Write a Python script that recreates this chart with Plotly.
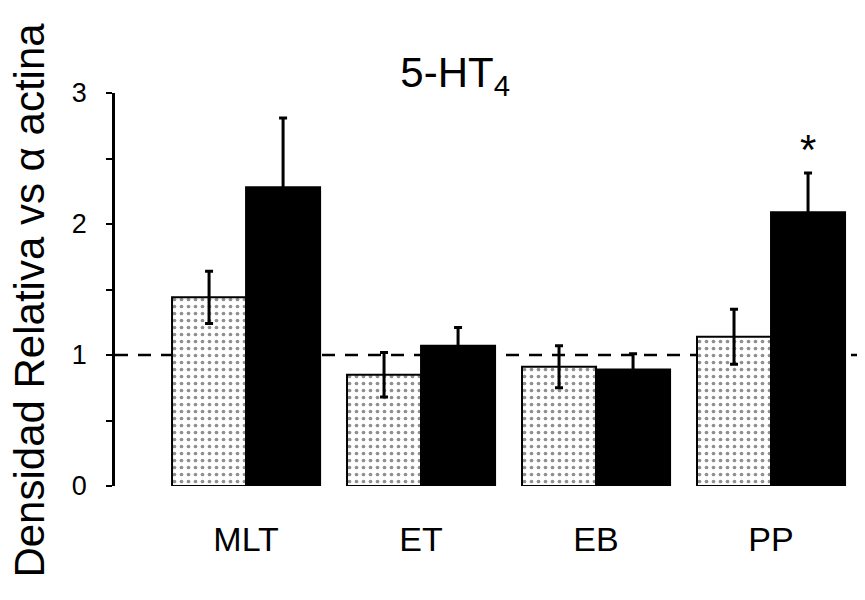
import plotly.graph_objects as go

categories = ["MLT", "ET", "EB", "PP"]
control_vals = [1.44, 0.85, 0.91, 1.14]
control_err = [0.20, 0.17, 0.16, 0.21]
treated_vals = [2.28, 1.07, 0.89, 2.09]
treated_err = [0.53, 0.14, 0.12, 0.30]
y_ticks = [0, 1, 2, 3]
reference_level = 1
significant = ["", "", "", "*"]

FONT = "Arial, Liberation Sans, sans-serif"
xs = list(range(len(categories)))

fig = go.Figure()
fig.add_trace(go.Bar(
    x=xs, y=control_vals,
    marker=dict(color="white", line=dict(color="black", width=2),
                pattern=dict(shape=".", fgcolor="#222222", bgcolor="white",
                             size=7, solidity=0.22)),
    error_y=dict(type="data", array=control_err, visible=True,
                 color="black", thickness=3, width=4),
    showlegend=False,
))
fig.add_trace(go.Bar(
    x=xs, y=treated_vals,
    marker=dict(color="black", line=dict(color="black", width=2)),
    error_y=dict(type="data", array=treated_err, visible=True,
                 color="black", thickness=3, width=4),
    showlegend=False,
))

fig.add_shape(type="line", xref="paper", x0=0, x1=1, yref="y",
              y0=reference_level, y1=reference_level,
              line=dict(color="black", width=2.5, dash="13px,10px"), layer="below")

half = (1 - 0.154) / 4
for i, s in enumerate(significant):
    if s:
        fig.add_annotation(x=xs[i] + half, y=treated_vals[i] + treated_err[i],
                           text=s, showarrow=False, yanchor="bottom", yshift=-2,
                           font=dict(family=FONT, size=42, color="black"))

fig.add_annotation(text="Densidad Relativa vs α actina", textangle=-90,
                   xref="paper", yref="paper", x=-0.114, y=0.473,
                   xanchor="center", yanchor="middle", showarrow=False,
                   font=dict(family=FONT, size=42, color="black"))

fig.update_layout(
    width=865, height=600,
    margin=dict(l=107, r=8, t=85, b=122),
    paper_bgcolor="white", plot_bgcolor="white",
    barmode="group", bargap=0.154, bargroupgap=0,
    title=dict(text="5-HT<sub>4</sub>", xref="container", x=0.517, xanchor="center",
               yref="container", y=0.893, yanchor="middle",
               font=dict(family=FONT, size=42, color="black")),
    font=dict(family=FONT, color="black"),
)
fig.update_xaxes(range=[-0.749, 3.537], tickvals=xs, ticktext=categories,
                 showline=False, showgrid=False, zeroline=False, ticks="",
                 tickfont=dict(size=34, family=FONT, color="black"),
                 ticklabelstandoff=30)
fig.update_yaxes(range=[0, 3], tickvals=y_ticks, showline=True, linecolor="black",
                 linewidth=2.5, showgrid=False, zeroline=False,
                 ticks="outside", ticklen=6, tickwidth=2, tickcolor="black",
                 minor=dict(dtick=0.5, ticks="outside", ticklen=6, tickwidth=2,
                            tickcolor="black", showgrid=False),
                 tickfont=dict(size=27, family=FONT, color="black"),
                 ticklabelstandoff=14)

fig.write_html("out.html")
